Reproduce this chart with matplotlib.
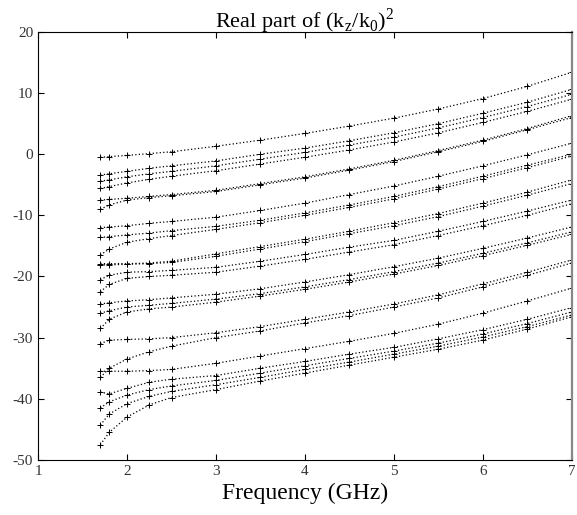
import numpy as np
import matplotlib
matplotlib.use("Agg")
from matplotlib import pyplot as plt

plt.rcParams['font.family'] = ['Liberation Serif', 'DejaVu Serif']
plt.rcParams['mathtext.fontset'] = 'custom'
plt.rcParams['mathtext.rm'] = 'Liberation Serif'
plt.rcParams['axes.unicode_minus'] = False

# frequency samples (GHz)
freq = [1.7, 1.8, 2.0, 2.25, 2.5, 3.0, 3.5, 4.0, 4.5, 5.0, 5.5, 6.0, 6.5, 7.0]

# Re{(kz/k0)^2} for each mode
modes = [
    [-0.5, -0.4, -0.2, 0.1, 0.4, 1.3, 2.3, 3.4, 4.6, 5.9, 7.4, 9.1, 11.1, 13.4],
    [-3.4, -3.2, -2.8, -2.3, -1.9, -1.1, 0.0, 1.0, 2.2, 3.5, 5.0, 6.7, 8.5, 10.6],
    [-4.4, -4.2, -3.7, -3.2, -2.8, -1.9, -0.8, 0.3, 1.5, 2.8, 4.3, 6.0, 7.8, 9.8],
    [-5.6, -5.3, -4.7, -4.1, -3.6, -2.7, -1.6, -0.5, 0.7, 2.0, 3.5, 5.2, 7.0, 9.0],
    [-7.5, -7.4, -7.2, -6.9, -6.6, -5.9, -4.8, -3.7, -2.4, -1.0, 0.6, 2.3, 4.2, 6.3],
    [-9.0, -8.3, -7.5, -7.1, -6.8, -6.1, -5.0, -3.9, -2.6, -1.2, 0.4, 2.1, 4.0, 6.0],
    [-12.0, -11.9, -11.7, -11.3, -11.0, -10.3, -9.2, -8.0, -6.6, -5.2, -3.6, -1.9, -0.1, 1.8],
    [-13.6, -13.5, -13.2, -12.9, -12.5, -11.8, -10.8, -9.6, -8.3, -6.9, -5.3, -3.6, -1.8, 0.0],
    [-16.5, -15.5, -14.4, -13.8, -13.3, -12.3, -11.2, -10.0, -8.7, -7.3, -5.7, -4.0, -2.2, -0.3],
    [-17.9, -17.9, -17.9, -17.8, -17.5, -16.3, -15.1, -13.9, -12.6, -11.2, -9.7, -8.0, -6.2, -4.2],
    [-18.1, -18.1, -18.0, -17.9, -17.7, -16.7, -15.5, -14.3, -13.0, -11.7, -10.2, -8.5, -6.7, -4.8],
    [-20.5, -19.8, -19.3, -19.2, -19.0, -18.5, -17.5, -16.4, -15.2, -14.1, -12.6, -11.0, -9.3, -7.5],
    [-22.5, -21.3, -20.3, -20.0, -19.8, -19.3, -18.3, -17.2, -16.0, -14.8, -13.3, -11.7, -10.0, -8.1],
    [-24.5, -24.3, -24.0, -23.8, -23.5, -22.9, -22.0, -20.9, -19.7, -18.4, -17.0, -15.4, -13.7, -11.9],
    [-26.0, -25.6, -25.0, -24.7, -24.4, -23.7, -22.8, -21.7, -20.5, -19.2, -17.8, -16.2, -14.5, -12.7],
    [-28.5, -27.0, -25.8, -25.3, -25.0, -24.2, -23.2, -22.1, -20.9, -19.6, -18.2, -16.6, -14.9, -13.1],
    [-31.0, -30.4, -30.3, -30.2, -30.0, -29.2, -28.2, -27.0, -25.8, -24.5, -23.0, -21.2, -19.3, -17.3],
    [-36.5, -35.0, -33.5, -32.3, -31.4, -30.0, -28.9, -27.6, -26.4, -25.0, -23.5, -21.7, -19.8, -17.8],
    [-35.5, -35.5, -35.5, -35.4, -35.2, -34.2, -33.0, -31.8, -30.6, -29.3, -27.8, -26.0, -24.0, -21.9],
    [-38.9, -39.2, -38.3, -37.3, -36.8, -36.2, -35.0, -33.9, -32.7, -31.6, -30.2, -28.7, -27.0, -25.1],
    [-41.5, -40.5, -39.4, -38.5, -37.9, -37.0, -35.8, -34.6, -33.4, -32.2, -30.9, -29.4, -27.7, -25.8],
    [-44.3, -42.5, -40.8, -39.6, -38.8, -37.7, -36.5, -35.2, -34.0, -32.7, -31.4, -29.9, -28.2, -26.3],
    [-47.5, -45.5, -43.0, -41.0, -39.8, -38.5, -37.1, -35.8, -34.5, -33.2, -31.9, -30.4, -28.6, -26.6],
]

fig = plt.figure(figsize=(5.77, 5.15), dpi=100)
ax = fig.add_axes([0.066, 0.107, 0.925, 0.831])

for m in modes:
    ax.plot(freq, m, color='black', lw=0.9, ls=(0, (1, 1.8)),
            marker='+', ms=4.5, mew=0.7)

ax.set_xlim(1, 7)
ax.set_ylim(-50, 20)
ax.set_xticks(range(1, 8))
ax.set_yticks(range(-50, 21, 10))
ax.tick_params(direction='in', top=True, right=True, length=4,
               labelsize=11, labelcolor='#333333')
ax.spines['right'].set_color('#888888')
ax.spines['right'].set_linewidth(1.6)

ax.set_title(r'Real part of (k$_\mathrm{z}$/k$_\mathrm{0}$)$^\mathrm{2}$',
             fontsize=16, pad=3)
ax.set_xlabel('Frequency (GHz)', fontsize=17, labelpad=4)

fig.savefig('out.png', dpi=100)
